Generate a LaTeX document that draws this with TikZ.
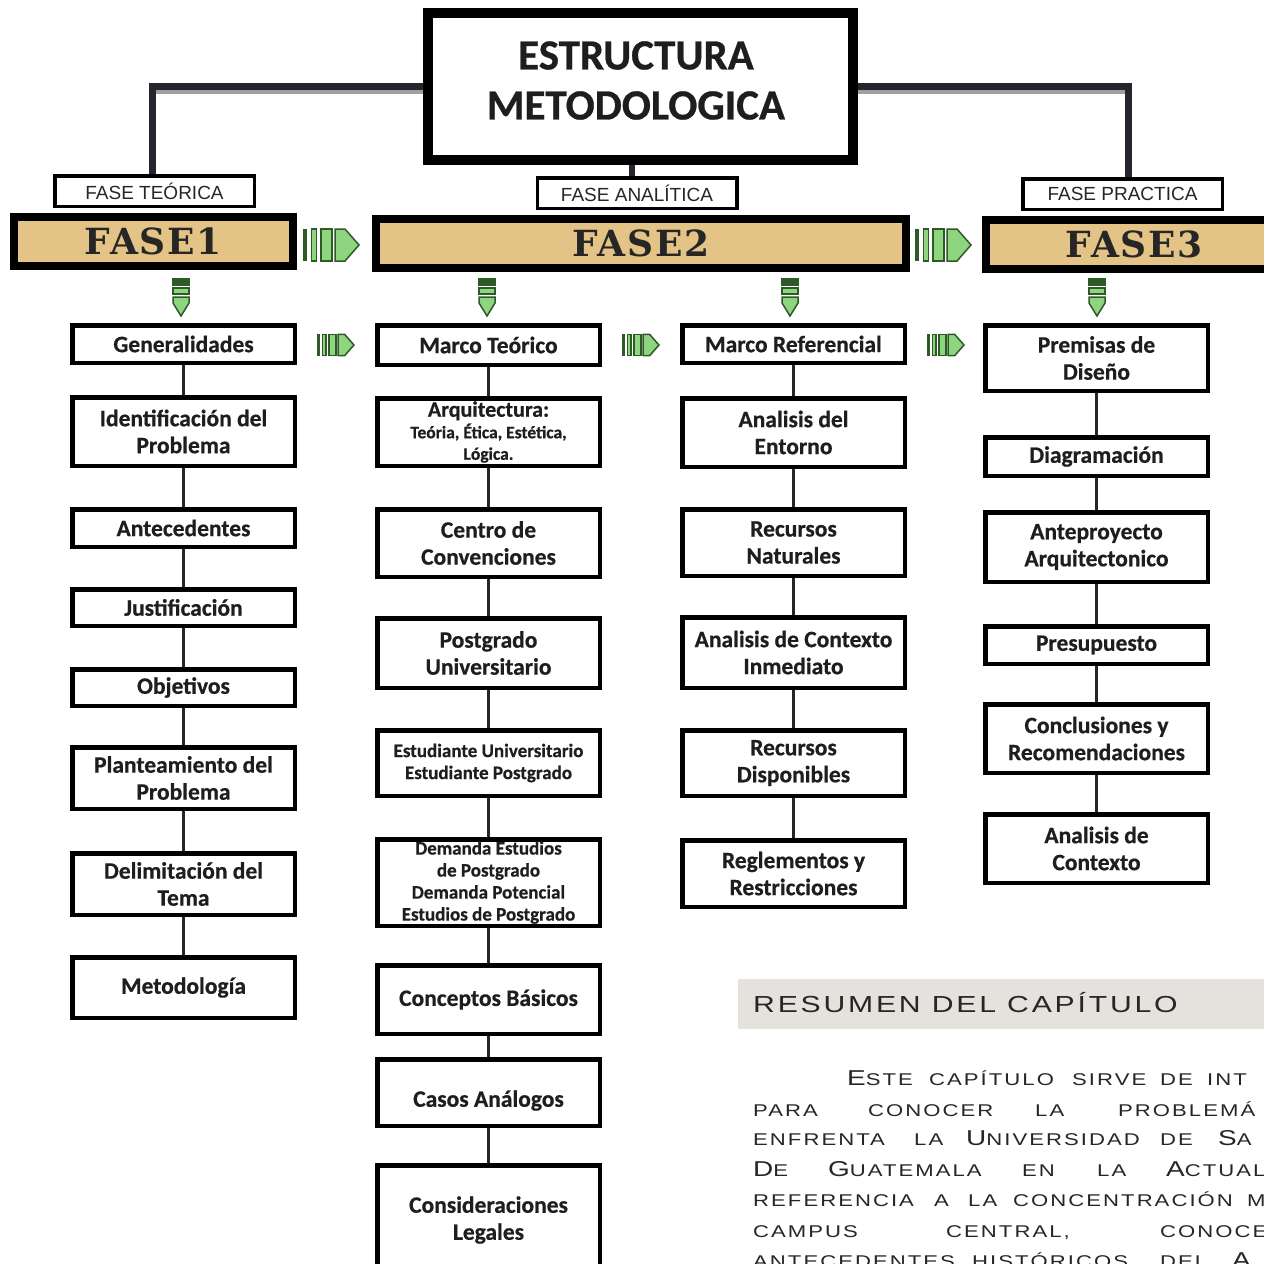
\documentclass[tikz,border=0pt]{standalone}
\usepackage{fontspec}
\setmainfont{Carlito}[BoldFeatures={FakeBold=0.6}]
\newfontfamily\arialf{Liberation Sans}
\newfontfamily\slabf{DejaVu Serif}[LetterSpace=5]
\newfontfamily\copperf{Liberation Sans}[FakeStretch=1.3,LetterSpace=12]
\definecolor{tanc}{HTML}{E3C386}
\definecolor{bandc}{HTML}{E5E1DC}
\definecolor{gdark}{HTML}{2E5A28}
\definecolor{glight}{HTML}{8FD47F}
\definecolor{tconnc}{HTML}{25252D}
\definecolor{textc}{HTML}{1E1E1E}
\newcommand\SC[1]{{\fontsize{17}{17}\selectfont #1}}
\newcommand\BC[1]{{\fontsize{21.5}{21.5}\selectfont #1}}
\newcommand\lowtext[2]{\raisebox{-#1}[\height][\depth]{#2}}
\tikzset{
  box/.style={draw=black, line width=4.5pt, fill=white, minimum width=222.5pt,
    align=center, font=\fontsize{23.5}{27}\selectfont\bfseries, text=textc, inner sep=1pt},
  smallbox/.style={box, font=\fontsize{19}{22}\selectfont\bfseries},
  link/.style={draw=tconnc, line width=3pt},
  lbl/.style={draw=black, line width=3.5pt, fill=white, minimum width=199.5pt,
    minimum height=30.5pt, font=\arialf\fontsize{19}{19}\selectfont, text=black!85, inner sep=0pt},
  fasebar/.style={draw=black, line width=8pt, fill=tanc, minimum height=49pt,
    font=\slabf\bfseries\fontsize{36}{36}\selectfont, text=black!85, inner sep=0pt},
  tconn/.style={draw=tconnc, line width=7pt},
  tshadow/.style={draw=gray!75, line width=5pt},
  ctext/.style={font=\copperf, inner sep=0pt, anchor=base west, text=black!85},
  gedge/.style={draw=gdark, line width=1.5pt},
  harrow/.pic={
    \fill[gdark] (0,-16) rectangle (4,16);
    \draw[gedge, fill=glight] (8.5,-16) rectangle (13.5,16);
    \draw[gedge, fill=glight] (18,-16) rectangle (29,16);
    \draw[gedge, fill=glight] (32,-16) -- (42,-16) -- (56,0) -- (42,16) -- (32,16) -- cycle;
  },
  varrow/.pic={
    \draw[gedge, fill=gdark] (-8,0) rectangle (8,6);
    \draw[gedge, fill=glight] (-8,9) rectangle (8,15);
    \draw[gedge, fill=glight] (-8,18) -- (8,18) -- (8,24) -- (0,37) -- (-8,24) -- cycle;
  }
}
\begin{document}
\begin{tikzpicture}[x=1pt,y=-1pt]
\clip (0,0) rectangle (1264,1264);
\fill[white] (0,0) rectangle (1264,1264);

% title and phase labels
\node[draw=black, line width=10pt, fill=white, minimum width=425pt, minimum height=147pt] (title) at (640.5,86.5) {};
\node[align=center, font=\fontsize{43}{50}\selectfont\bfseries, text=textc, inner sep=0pt] (titletxt) at (636,80.5)
  {ESTRUCTURA\\METODOLOGICA};
\node[lbl] (ft) at (154.5,191) {FASE TEÓRICA};
\node[lbl] (fa) at (637,193) {FASE ANALÍTICA};
\node[lbl] (fp) at (1122.5,194) {FASE PRACTICA};

\coordinate (ftn) at ([xshift=-2.5pt]ft.north);
\coordinate (fpn) at ([xshift=5.5pt]fp.north);
\coordinate (fan) at ([xshift=-5pt]fa.north);
\draw[tshadow] ([yshift=-5pt]title.west) -- ([yshift=-5pt]title.west -| ftn);
\draw[tshadow] ([yshift=-5pt]title.east) -- ([yshift=-5pt]title.east -| fpn);
\draw[tconn] (title.west) -| (ftn);
\draw[tconn] (title.east) -| (fpn);
\draw[tconn, line width=6pt] (fan |- title.south) -- (fan);

% phase bars
\node[fasebar, minimum width=279pt] (f1) at (153.5,241.5) {FASE1};
\node[fasebar, minimum width=530pt] (f2) at (641,243.5) {FASE2};
\node[fasebar, minimum width=297pt] (f3) at (1134.5,244.5) {FASE3};

\pic at (303,245) {harrow};
\pic at (915,245) {harrow};
\pic[scale=0.66] at (317,345) {harrow};
\pic[scale=0.66] at (622,345) {harrow};
\pic[scale=0.66] at (927,345) {harrow};
\pic at (181,279) {varrow};
\pic at (487,279) {varrow};
\pic at (790,279) {varrow};
\pic at (1097,279) {varrow};

% column 1
\node[box, minimum height=37.5pt] (g1) at (183.5,344) {Generalidades};
\node[box, minimum height=68.5pt] (g2) at (183.5,431.5) {Identificación del\\Problema};
\node[box, minimum height=37.5pt] (g3) at (183.5,528) {Antecedentes};
\node[box, minimum height=36.5pt] (g4) at (183.5,607.5) {Justificación};
\node[box, minimum height=36.5pt] (g5) at (183.5,687.5) {Objetivos};
\node[box, minimum height=61.5pt] (g6) at (183.5,778) {Planteamiento del\\Problema};
\node[box, minimum height=61.5pt] (g7) at (183.5,884) {Delimitación del\\Tema};
\node[box, minimum height=60.5pt] (g8) at (183.5,987.5) {Metodología};

% column 2
\node[box, minimum height=39.5pt] (t1) at (488.5,345) {Marco Teórico};
\node[box, minimum height=67.5pt, font=\fontsize{17.5}{21.5}\selectfont\bfseries] (t2) at (488.5,432)
  {{\fontsize{22}{21.5}\selectfont Arquitectura:}\\Teória, Ética, Estética,\\Lógica.};
\node[box, minimum height=67.5pt] (t3) at (488.5,543) {Centro de\\Convenciones};
\node[box, minimum height=69.5pt] (t4) at (488.5,653) {Postgrado\\Universitario};
\node[smallbox, minimum height=65.5pt] (t5) at (488.5,763) {Estudiante Universitario\\Estudiante Postgrado};
\node[smallbox, minimum height=86.5pt] (t6) at (488.5,882.5) {Demanda Estudios\\de Postgrado\\Demanda Potencial\\Estudios de Postgrado};
\node[box, minimum height=68.5pt] (t7) at (488.5,999.5) {Conceptos Básicos};
\node[box, minimum height=66.5pt] (t8) at (488.5,1092.5) {\lowtext{8pt}{Casos Análogos}};
\node[box, minimum height=109.5pt] (t9) at (488.5,1220) {Consideraciones\\Legales};

% column 3
\node[box, minimum height=37.5pt] (r1) at (793.5,344) {Marco Referencial};
\node[box, minimum height=68.5pt] (r2) at (793.5,432.5) {Analisis del\\Entorno};
\node[box, minimum height=66.5pt] (r3) at (793.5,542.5) {Recursos\\Naturales};
\node[box, minimum height=70.5pt] (r4) at (793.5,652.5) {Analisis de Contexto\\Inmediato};
\node[box, minimum height=65.5pt] (r5) at (793.5,763) {Recursos\\Disponibles};
\node[box, minimum height=66.5pt] (r6) at (793.5,873.5) {Reglementos y\\Restricciones};

% column 4
\node[box, minimum height=65.5pt] (p1) at (1096.5,358) {Premisas de\\Diseño};
\node[box, minimum height=38.5pt] (p2) at (1096.5,456.5) {Diagramación};
\node[box, minimum height=69.5pt] (p3) at (1096.5,547) {Anteproyecto\\Arquitectonico};
\node[box, minimum height=37.5pt] (p4) at (1096.5,645) {Presupuesto};
\node[box, minimum height=68.5pt] (p5) at (1096.5,738.5) {Conclusiones y\\Recomendaciones};
\node[box, minimum height=68.5pt] (p6) at (1096.5,848.5) {Analisis de\\Contexto};

\foreach \a/\b in {g1/g2,g2/g3,g3/g4,g4/g5,g5/g6,g6/g7,g7/g8,
                   t1/t2,t2/t3,t3/t4,t4/t5,t5/t6,t6/t7,t7/t8,t8/t9,
                   r1/r2,r2/r3,r3/r4,r4/r5,r5/r6,
                   p1/p2,p2/p3,p3/p4,p4/p5,p5/p6}
  \draw[link] (\a) -- (\b);

% summary
\node[fill=bandc, minimum width=526pt, minimum height=50pt, inner sep=0pt] (band) at (1001,1004) {};
\node[ctext, font=\copperf\fontsize{23.2}{23.2}\selectfont] (bandtxt) at (753,1012) {RESUMEN DEL CAPÍTULO};

\foreach \w/\x [count=\i] in {{\BC{E}\SC{STE}}/847, {\SC{CAPÍTULO}}/929, {\SC{SIRVE}}/1072, {\SC{DE}}/1160, {\SC{INT}}/1207}
  \node[ctext] (la\i) at (\x,1085) {\w};
\foreach \w/\x [count=\i] in {{\SC{PARA}}/753, {\SC{CONOCER}}/868, {\SC{LA}}/1035, {\SC{PROBLEMÁ}}/1118}
  \node[ctext] (lb\i) at (\x,1116) {\w};
\foreach \w/\x [count=\i] in {{\SC{ENFRENTA}}/753, {\SC{LA}}/914, {\BC{U}\SC{NIVERSIDAD}}/966, {\SC{DE}}/1160, {\BC{S}\SC{A}}/1218}
  \node[ctext] (lc\i) at (\x,1145) {\w};
\foreach \w/\x [count=\i] in {{\BC{D}\SC{E}}/753, {\BC{G}\SC{UATEMALA}}/828, {\SC{EN}}/1022, {\SC{LA}}/1097, {\BC{A}\SC{CTUAL}}/1166}
  \node[ctext] (ld\i) at (\x,1176) {\w};
\foreach \w/\x [count=\i] in {{\SC{REFERENCIA}}/753, {\SC{A}}/934, {\SC{LA}}/968, {\SC{CONCENTRACIÓN}}/1013, {\SC{M}}/1247}
  \node[ctext] (le\i) at (\x,1206) {\w};
\foreach \w/\x [count=\i] in {{\SC{CAMPUS}}/753, {\SC{CENTRAL,}}/946, {\SC{CONOCE}}/1160}
  \node[ctext] (lf\i) at (\x,1237) {\w};
\foreach \w/\x [count=\i] in {{\SC{ANTECEDENTES}}/753, {\SC{HISTÓRICOS}}/972, {\SC{DEL}}/1160, {\BC{A}}/1232}
  \node[ctext] (lg\i) at (\x,1267) {\w};
\end{tikzpicture}
\end{document}
